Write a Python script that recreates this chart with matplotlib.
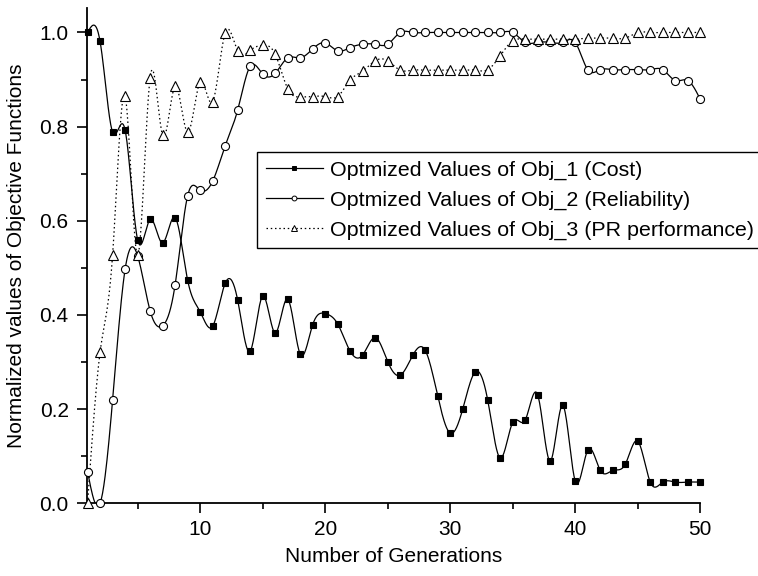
import numpy as np
import matplotlib
matplotlib.use("Agg")
import matplotlib.pyplot as plt
from matplotlib.ticker import MultipleLocator

plt.rcParams['font.family'] = ['Liberation Sans', 'DejaVu Sans']

generations = np.arange(1, 51)

cost = [1.000, 0.981, 0.788, 0.793, 0.560, 0.603, 0.553, 0.607, 0.474, 0.407,
        0.376, 0.467, 0.432, 0.323, 0.440, 0.362, 0.434, 0.317, 0.379, 0.403,
        0.381, 0.323, 0.315, 0.352, 0.301, 0.272, 0.314, 0.325, 0.228, 0.149,
        0.200, 0.279, 0.219, 0.096, 0.172, 0.177, 0.230, 0.090, 0.208, 0.047,
        0.113, 0.070, 0.070, 0.083, 0.132, 0.045, 0.045, 0.045, 0.045, 0.045]

reliability = [0.067, 0.000, 0.219, 0.497, 0.526, 0.409, 0.377, 0.464, 0.653, 0.665,
               0.684, 0.759, 0.835, 0.928, 0.912, 0.913, 0.946, 0.946, 0.965, 0.978,
               0.961, 0.968, 0.975, 0.975, 0.975, 1.000, 1.000, 1.000, 1.000, 1.000,
               1.000, 1.000, 1.000, 1.000, 1.000, 0.979, 0.979, 0.979, 0.979, 0.979,
               0.921, 0.921, 0.921, 0.921, 0.921, 0.921, 0.921, 0.898, 0.898, 0.858]

pr_perf = [0.000, 0.321, 0.527, 0.865, 0.527, 0.904, 0.782, 0.886, 0.788, 0.895,
           0.853, 0.999, 0.961, 0.962, 0.973, 0.954, 0.881, 0.863, 0.864, 0.864,
           0.864, 0.899, 0.918, 0.940, 0.940, 0.920, 0.920, 0.920, 0.920, 0.920,
           0.920, 0.920, 0.921, 0.951, 0.982, 0.986, 0.986, 0.986, 0.986, 0.986,
           0.988, 0.988, 0.988, 0.988, 1.000, 1.000, 1.000, 1.000, 1.000, 1.000]

labels = ["Optmized Values of Obj_1 (Cost)",
          "Optmized Values of Obj_2 (Reliability)",
          "Optmized Values of Obj_3 (PR performance)"]


def natural_spline(x, y, per_seg=20):
    """Natural cubic spline through (x, y), sampled for drawing the line."""
    x = np.asarray(x, float)
    y = np.asarray(y, float)
    n = len(x)
    h = np.diff(x)
    A = np.zeros((n, n))
    b = np.zeros(n)
    A[0, 0] = A[-1, -1] = 1.0
    for i in range(1, n - 1):
        A[i, i - 1] = h[i - 1]
        A[i, i] = 2 * (h[i - 1] + h[i])
        A[i, i + 1] = h[i]
        b[i] = 6 * ((y[i + 1] - y[i]) / h[i] - (y[i] - y[i - 1]) / h[i - 1])
    M = np.linalg.solve(A, b)
    xs, ys = [], []
    for i in range(n - 1):
        t = np.linspace(x[i], x[i + 1], per_seg, endpoint=(i == n - 2))
        a = x[i + 1] - t
        c = t - x[i]
        s = (M[i] * a ** 3 / (6 * h[i]) + M[i + 1] * c ** 3 / (6 * h[i])
             + (y[i] / h[i] - M[i] * h[i] / 6) * a
             + (y[i + 1] / h[i] - M[i + 1] * h[i] / 6) * c)
        xs.append(t)
        ys.append(s)
    return np.concatenate(xs), np.concatenate(ys)


fig = plt.figure(figsize=(7.58, 5.76), dpi=100)
ax = fig.add_axes([86.7 / 758, 1 - 503.3 / 576, (700.3 - 86.7) / 758, (503.3 - 8) / 576])

styles = [
    dict(ls='-', marker='s', mfc='black', ms=4.2),
    dict(ls='-', marker='o', mfc='white', ms=5.8),
    dict(ls=(0, (1.2, 2.2)), marker='^', mfc='white', ms=6.5),
]

handles = []
for vals, st, lab in zip([cost, reliability, pr_perf], styles, labels):
    sx, sy = natural_spline(generations, vals)
    ax.plot(sx, sy, color='black', lw=0.9, ls=st['ls'], zorder=2)
    ax.plot(generations, vals, ls='none', marker=st['marker'], ms=st['ms'],
            mfc=st['mfc'], mec='black', mew=0.8, zorder=3, clip_on=False)
    h, = ax.plot([], [], color='black', lw=0.9, ls=st['ls'], marker=st['marker'],
                 ms=st['ms'] * 0.6, mfc=st['mfc'], mec='black', mew=0.7)
    handles.append(h)

ax.set_xlim(0.93, 50)
ax.set_ylim(0, 1.052)
ax.spines['top'].set_visible(False)
ax.spines['right'].set_visible(False)
for s in ['left', 'bottom']:
    ax.spines[s].set_linewidth(1.3)

ax.xaxis.set_major_locator(MultipleLocator(10))
ax.xaxis.set_minor_locator(MultipleLocator(5))
ax.yaxis.set_major_locator(MultipleLocator(0.2))
ax.yaxis.set_minor_locator(MultipleLocator(0.1))
ax.yaxis.set_major_formatter(matplotlib.ticker.FormatStrFormatter('%.1f'))
ax.tick_params(which='major', direction='out', length=7, width=1.2, labelsize=15, pad=5)
ax.tick_params(which='minor', direction='out', length=4, width=1.2)
ax.tick_params(axis='y', which='major', pad=6)

ax.set_xlabel("Number of Generations", fontsize=15, labelpad=6)
ax.set_ylabel("Normalized values of Objective Functions", fontsize=15, labelpad=10)

leg = fig.legend(handles, labels, loc='upper left', bbox_to_anchor=(257 / 758, 1 - 152 / 576),
                 bbox_transform=fig.transFigure, fontsize=15.4, frameon=True, fancybox=False,
                 edgecolor='black', framealpha=1, borderaxespad=0, handlelength=2.7,
                 handletextpad=0.3, labelspacing=0.5, borderpad=0.4)
leg.get_frame().set_linewidth(1.0)

fig.savefig("out.png", dpi=100)
